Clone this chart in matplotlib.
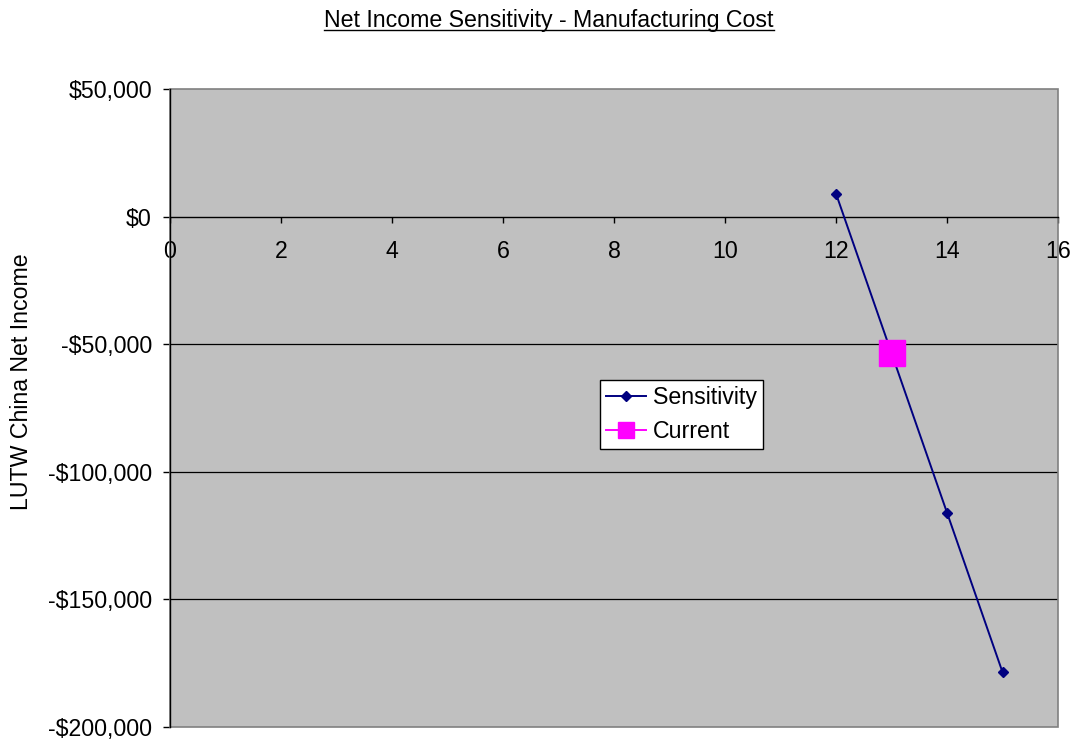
import matplotlib
matplotlib.use("Agg")
import matplotlib.pyplot as plt
from matplotlib.patches import Rectangle
from matplotlib.lines import Line2D

plt.rcParams['font.family'] = ['Liberation Sans', 'DejaVu Sans']

# data
sens_x = [12, 14, 15]
sens_y = [9000, -116000, -178500]
cur_x = [13]
cur_y = [-53500]
xticks = [0, 2, 4, 6, 8, 10, 12, 14, 16]
yticks = [50000, 0, -50000, -100000, -150000, -200000]
ylabels = ["$50,000", "$0", "-$50,000", "-$100,000", "-$150,000", "-$200,000"]

FS = 16.7

fig = plt.figure(figsize=(10.76, 7.4), dpi=100)
ax = fig.add_axes([170 / 1076, 1 - 727 / 740, 888 / 1076, 638 / 740])
ax.set_facecolor("#c0c0c0")
ax.set_xlim(0, 16)
ax.set_ylim(-200000, 50000)

# horizontal gridlines
for v in yticks[2:-1]:
    ax.axhline(v, color="black", lw=0.9, zorder=1)

ax.plot(sens_x, sens_y, color="#000080", lw=1.4, marker="D", ms=5,
        label="Sensitivity", zorder=3)
ax.plot(cur_x, cur_y, color="#ff00ff", lw=1.4, marker="s", ms=19,
        label="Current", zorder=4, linestyle="-")

# axes styling: x axis line at y = 0
for s in ["top", "right"]:
    ax.spines[s].set_visible(False)
ax.spines["bottom"].set_position(("data", 0))
ax.spines["bottom"].set_linewidth(1.0)
ax.spines["left"].set_linewidth(1.0)
ax.add_patch(Rectangle((0, 0), 1, 1, transform=ax.transAxes, fill=False,
                       edgecolor="#808080", lw=1.2, zorder=2, clip_on=False))

ax.set_xticks(xticks)
ax.set_xticklabels([str(t) for t in xticks], fontsize=FS)
ax.set_yticks(yticks)
ax.set_yticklabels(ylabels, fontsize=FS)
ax.tick_params(axis="x", direction="out", length=4.5, width=1, pad=12)
ax.tick_params(axis="y", direction="out", length=5, width=1, pad=8)

fig.text(22 / 1076, 1 - 382 / 740, "LUTW China Net Income", rotation=90,
         ha="center", va="center", fontsize=FS)

title = fig.text(549 / 1076, 1 - 20 / 740, "Net Income Sensitivity - Manufacturing Cost",
                 ha="center", va="center", fontsize=FS)

leg = ax.legend(loc="upper left", bbox_to_anchor=(600 / 1076, 1 - 380 / 740),
                bbox_transform=fig.transFigure, fontsize=FS, frameon=True,
                fancybox=False, edgecolor="black", framealpha=1,
                handlelength=1.75, handletextpad=0.3, borderpad=0.25,
                labelspacing=0.48, borderaxespad=0, markerscale=1)
leg.get_frame().set_linewidth(1.0)
hs = leg.legend_handles
hs[0].set_markersize(5)
hs[1].set_markersize(11)

# underline the title
fig.canvas.draw()
bb = title.get_window_extent().transformed(fig.transFigure.inverted())
fig.add_artist(Line2D([bb.x0, bb.x1], [bb.y0 + 0.002, bb.y0 + 0.002],
                      transform=fig.transFigure, color="black", lw=1.0))

fig.savefig("out.png", dpi=100)
